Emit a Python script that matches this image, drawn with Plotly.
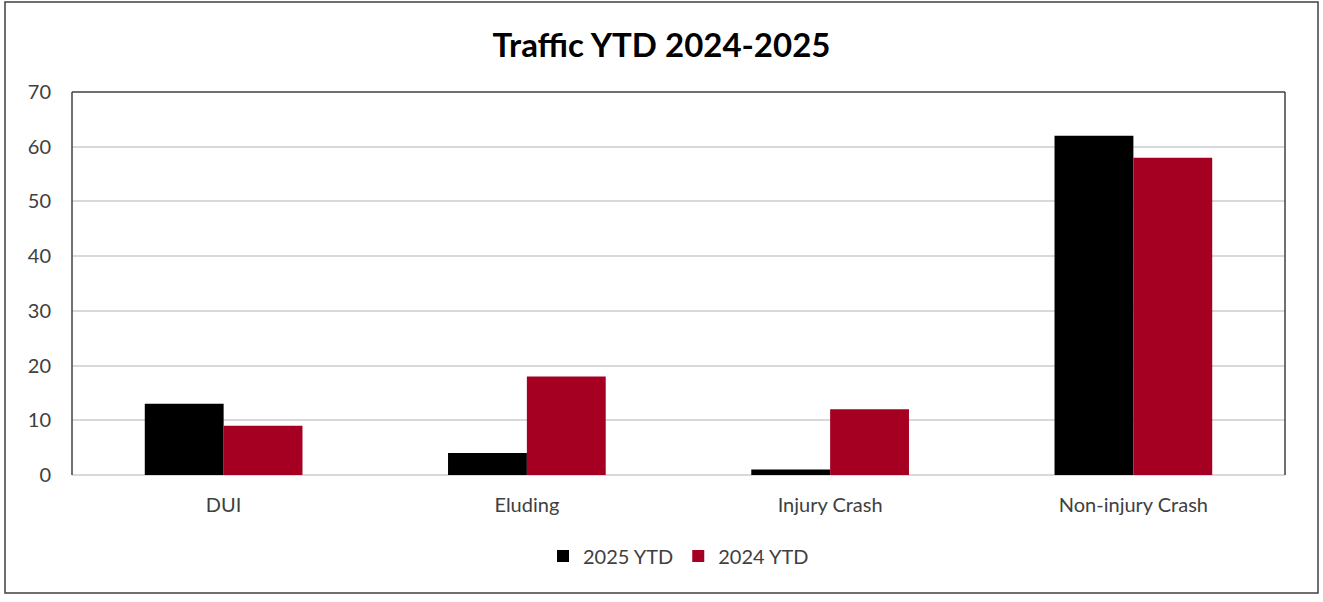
import plotly.graph_objects as go

categories = ["DUI", "Eluding", "Injury Crash", "Non-injury Crash"]
ytd_2025 = [13, 4, 1, 62]
ytd_2024 = [9, 18, 12, 58]
y_ticks = [0, 10, 20, 30, 40, 50, 60, 70]

colors = {"2025 YTD": "#000000", "2024 YTD": "#A50021"}
font_family = "Lato, 'Open Sans', sans-serif"
tick_color = "#404040"

fig = go.Figure()
fig.add_trace(go.Bar(x=categories, y=ytd_2025, name="2025 YTD",
                     marker_color=colors["2025 YTD"], marker_line_width=0))
fig.add_trace(go.Bar(x=categories, y=ytd_2024, name="2024 YTD",
                     marker_color=colors["2024 YTD"], marker_line_width=0))

# plot area geometry in pixels
W, H = 1323, 602
L, R, T, B = 72, 38, 92, 127
pw, ph = W - L - R, H - T - B

# outer chart border
bx0, bx1, by0, by1 = 5, 1318, 2, 593
fig.add_shape(type="rect", xref="paper", yref="paper",
              x0=(bx0 - L) / pw, x1=(bx1 - L) / pw,
              y0=(H - B - by1) / ph, y1=(H - B - by0) / ph,
              line=dict(color="#404040", width=1.5), layer="below")

# plot area frame: left, top, right (bottom is the 0 gridline)
for x0, y0, x1, y1 in [(0, 0, 0, 1), (0, 1, 1, 1), (1, 0, 1, 1)]:
    fig.add_shape(type="line", xref="paper", yref="paper",
                  x0=x0, y0=y0, x1=x1, y1=y1,
                  line=dict(color="#404040", width=1.5))

fig.update_layout(
    width=W, height=H,
    margin=dict(l=L, r=R, t=T, b=B, pad=0),
    autosize=False,
    plot_bgcolor="white", paper_bgcolor="white",
    barmode="group", bargap=0.48, bargroupgap=0,
    font=dict(family=font_family, size=20, color=tick_color),
    title=dict(text="<b>Traffic YTD 2024-2025</b>", x=0.5, xanchor="center",
               y=1 - 45 / H, yanchor="middle",
               font=dict(family=font_family, size=33, color="#000000")),
    legend=dict(orientation="h", x=0.5, xanchor="center",
                y=-(556 - (H - B)) / ph, yanchor="middle",
                font=dict(size=20, color=tick_color), itemwidth=30),
    xaxis=dict(showgrid=False, ticks="", tickfont=dict(size=20, color=tick_color),
               ticklabelstandoff=16),
    yaxis=dict(range=[0, 70], tickvals=y_ticks, showgrid=True,
               gridcolor="#D9D9D9", gridwidth=1.5, zeroline=True,
               zerolinecolor="#D9D9D9", zerolinewidth=1.5,
               tickfont=dict(size=20, color=tick_color), ticklabelstandoff=20),
)

# page body has a default margin; remove it so the figure sits at the corner
fig.write_html("out.html", config={"displayModeBar": False},
               post_script="document.body.style.margin='0';")
